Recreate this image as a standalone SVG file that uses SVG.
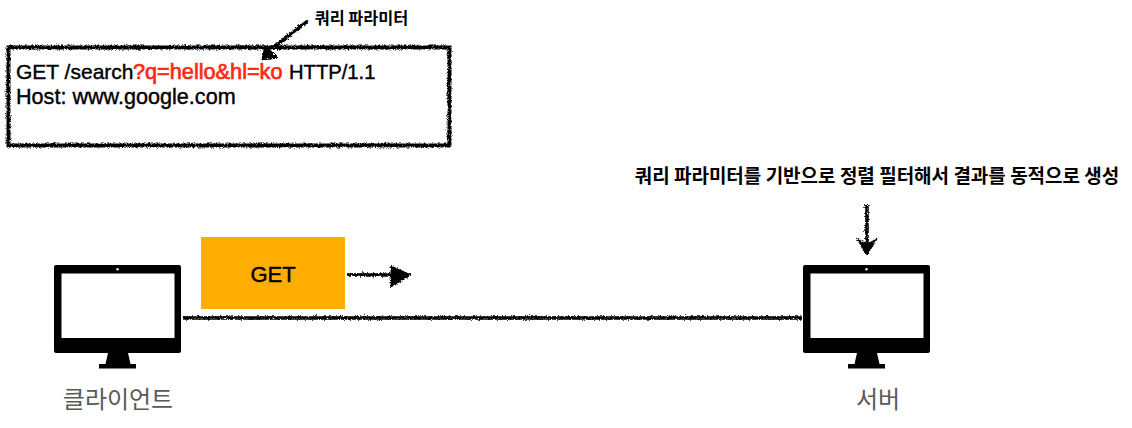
<svg xmlns="http://www.w3.org/2000/svg" width="1132" height="428" viewBox="0 0 1132 428">
<style>
.t{font-family:"Liberation Sans","Noto Sans CJK KR",sans-serif;fill:#000;stroke:#000;stroke-width:0.400}
.k{font-family:"Noto Sans CJK KR","Liberation Sans",sans-serif;font-weight:700;fill:#000}
.l{font-family:"Noto Sans CJK KR","Liberation Sans",sans-serif;font-size:24px;fill:#595959;text-anchor:middle}
.r{fill:none;stroke:#000}
.h{fill:#000;stroke:#000;stroke-width:1}
.sk{filter:url(#rough)}
</style>
<defs>
<filter id="rough" filterUnits="userSpaceOnUse" x="0" y="0" width="1132" height="428">
<feTurbulence type="turbulence" baseFrequency="0.45" numOctaves="2" seed="3"/>
<feDisplacementMap in="SourceGraphic" scale="3.500" xChannelSelector="R" yChannelSelector="G"/>
</filter>
<g id="monitor">
<rect x="0" y="0" width="127" height="88" rx="2" fill="#000"/>
<rect x="7.500" y="8.500" width="113" height="64.500" fill="#fff"/>
<circle cx="63.500" cy="4.300" r="1.200" fill="#fff"/>
<path d="M54 88H74L76.500 99H82V103.500H45V99H51.500Z" fill="#000"/>
</g>
</defs>
<rect width="1132" height="428" fill="#fff"/>
<g id="connectors" class="sk">
<path class="r" stroke-width="3.500" d="M182 317H801"/>
<path class="r" stroke-width="3.500" d="M347 274H391"/>
<path class="h" d="M390 265L410 274L390 286Z"/>
<path class="r" stroke-width="3.500" d="M866 204V248"/>
<path class="h" d="M856 238L866 243L876 238L866 254Z"/>
<path class="r" stroke-width="3.500" d="M307 20L271 48"/>
<path class="h" d="M264 44L277 57L261 59Z"/>
</g>
<g id="request-box">
<rect class="r sk" stroke-width="4" x="7.500" y="46.500" width="441" height="98"/>
<text class="t" font-size="21" x="16" y="79">GET /search</text>
<text class="t" font-size="21.700" x="133" y="79" style="fill:#ff2a12;stroke:#ff2a12;stroke-width:0.700">?q=hello&amp;hl=ko</text>
<text class="t" font-size="20.200" x="289" y="79">HTTP/1.1</text>
<text class="t" font-size="21.600" x="16" y="104">Host: www.google.com</text>
</g>
<g id="query-label"><text class="k" font-size="16.300" x="361.500" y="24" text-anchor="middle">쿼리 파라미터</text></g>
<g id="server-note"><text class="k" font-size="19" x="877" y="183" text-anchor="middle">쿼리 파라미터를 기반으로 정렬 필터해서 결과를 동적으로 생성</text></g>
<g id="get-box">
<rect x="201" y="237" width="144" height="72" fill="#ffae00"/>
<text class="t" font-size="22" x="273" y="282" text-anchor="middle">GET</text>
</g>
<g id="client">
<use href="#monitor" x="54" y="265"/>
<text class="l" x="118" y="408">클라이언트</text>
</g>
<g id="server">
<use href="#monitor" x="803" y="265"/>
<text class="l" x="878" y="408">서버</text>
</g>
</svg>
